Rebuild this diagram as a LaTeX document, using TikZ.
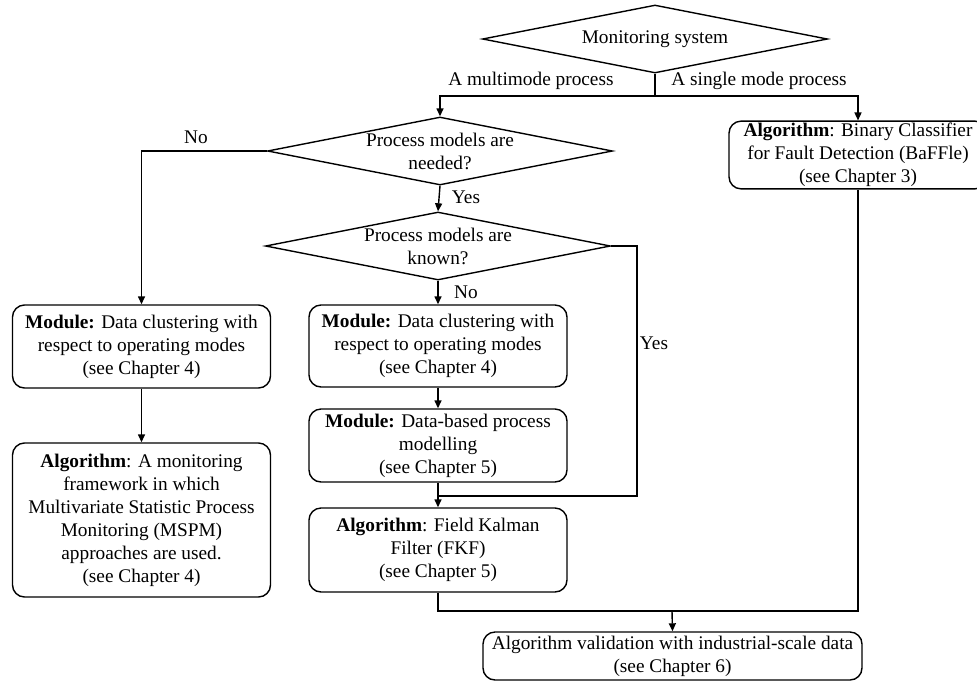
\documentclass[tikz,border=0pt]{standalone}
\usepackage{fontspec}
\setmainfont{Liberation Serif}
\usetikzlibrary{arrows.meta,positioning,shapes.geometric}

\begin{document}
\begin{tikzpicture}[
            x=1pt, y=-1pt,
            font=\fontsize{19.3}{23}\selectfont,
            every path/.style={line width=1.4pt},
            decision/.style={diamond, draw, aspect=5, inner sep=0pt, minimum width=345pt, minimum height=68pt},
            block/.style={rectangle, draw, rounded corners=12pt, align=center, inner sep=2pt, minimum width=258pt},
            arr/.style={-{Triangle[length=8pt,width=7pt]}}
        ]
        \useasboundingbox (0,0) rectangle (977,681);

        % decisions
        \node[decision, label={[align=center]center:Monitoring system}] (monitor) at (655,39) {};
        \node[decision, label={[align=center]center:Process models are\\needed?}] (needed) at (440,151) {};
        \node[decision, label={[align=center]center:Process models are\\known?}] (known) at (438,246) {};

        % blocks
        \node[block, minimum height=83pt] (clusA) at (141.5,346.5) {\textbf{Module:} Data clustering with\\respect to operating modes\\(see Chapter 4)};
        \node[block, minimum height=154pt] (mspm) at (141.5,520) {\textbf{Algorithm}: A monitoring\\framework in which\\Multivariate Statistic Process\\Monitoring (MSPM)\\approaches are used.\\(see Chapter 4)};
        \node[block, minimum height=82pt] (clusB) at (438,346) {\textbf{Module:} Data clustering with\\respect to operating modes\\(see Chapter 4)};
        \node[block, minimum height=73pt] (model) at (438,445.5) {\textbf{Module:} Data-based process\\modelling\\(see Chapter 5)};
        \node[block, minimum height=84pt] (fkf) at (438,550) {\textbf{Algorithm}: Field Kalman\\Filter (FKF)\\(see Chapter 5)};
        \node[block, minimum height=66pt] (baffle) at (858,155) {\textbf{Algorithm}: Binary Classifier\\for Fault Detection (BaFFle)\\(see Chapter 3)};
        \node[block, minimum width=379pt, minimum height=48pt, inner sep=1pt] (valid) at (672.5,656) {Algorithm validation with industrial-scale data\\(see Chapter 6)};

        % junctions
        \coordinate (split) at (655,96);
        \coordinate (merge) at (438,496);
        \coordinate (bypass) at (637,496);
        \coordinate (join) at (672,611);

        % labels
        \node (multi) at (531,81) {A multimode process};
        \node (single) at (759,81) {A single mode process};
        \node (noA) at (196,137) {No};
        \node (yesA) at (466,197) {Yes};
        \node (noB) at (466,292) {No};
        \node (yesB) at (654,343) {Yes};

        % connectors
        \draw (monitor.south) -- (split);
        \draw[arr] (split) -| (needed.north);
        \draw[arr] (split) -| (baffle.north);
        \draw[arr] (needed.west) -| (clusA.north);
        \draw[arr] (needed.south) -- (known.north);
        \draw[arr] (known.south) -- (clusB.north);
        \draw[arr] (clusA.south) -- (mspm.north);
        \draw[arr] (clusB.south) -- (model.north);
        \draw[arr] (model.south) -- (fkf.north);
        \draw (known.east) -| (bypass) -- (merge);
        \draw (fkf.south) |- (join);
        \draw (baffle.south) |- (join);
        \draw[arr] (join) -- (valid.north);

    \end{tikzpicture}
\end{document}
